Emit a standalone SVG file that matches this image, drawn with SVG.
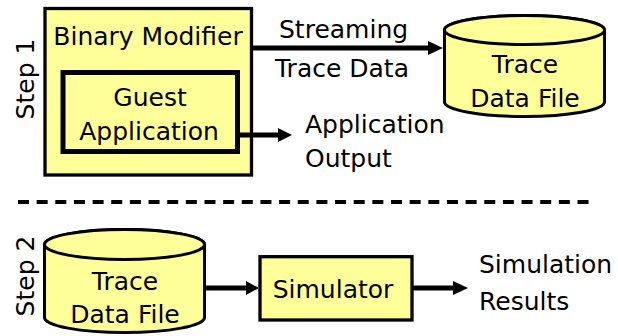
<svg xmlns="http://www.w3.org/2000/svg" width="618" height="336" viewBox="0 0 618 336">
  <defs>
    <style>
      .box { fill: #FFFF99; stroke: #000; stroke-width: 3.3; }
      .inner { fill: none; stroke: #000; stroke-width: 5; }
      .cyl { fill: #FFFF99; stroke: #000; stroke-width: 3; }
      .edge { stroke: #000; stroke-width: 5; fill: none; }
      .head { fill: #000; }
      text { font-family: "DejaVu Sans", Verdana, sans-serif; font-size: 25px; fill: #000; }
      .mid { text-anchor: middle; }
    </style>
  </defs>

  <rect width="618" height="336" fill="#fff"/>

  <!-- step labels -->
  <text class="mid" transform="translate(33.5,79) rotate(-90)">Step 1</text>
  <text class="mid" transform="translate(33.5,276) rotate(-90)">Step 2</text>

  <!-- step 1: binary modifier wrapping the guest application -->
  <g id="binary-modifier">
    <rect class="box" x="45" y="8.5" width="206.5" height="166.5"/>
    <text class="mid" x="148" y="45">Binary Modifier</text>
  </g>
  <g id="guest-application">
    <rect class="inner" x="63" y="72.5" width="174.5" height="79"/>
    <text class="mid" x="150" y="106">Guest</text>
    <text class="mid" x="149" y="140">Application</text>
  </g>

  <g id="trace-file-1">
    <path class="cyl" d="M444.5,30 V102 A80,14.5 0 0 0 604.5,102 V30 A80,14.5 0 0 0 444.5,30 Z"/>
    <ellipse class="cyl" cx="524.5" cy="30" rx="80" ry="14.5"/>
    <text class="mid" x="525" y="73">Trace</text>
    <text class="mid" x="525" y="107">Data File</text>
  </g>

  <g id="app-output">
    <text x="305" y="133">Application</text>
    <text x="305" y="167">Output</text>
  </g>

  <!-- separator between the two steps -->
  <line x1="18" y1="202" x2="589" y2="202" stroke="#000" stroke-width="4" stroke-dasharray="11 7.65"/>

  <!-- step 2 -->
  <g id="trace-file-2">
    <path class="cyl" d="M44.5,244.5 V317.5 A80,15 0 0 0 204.5,317.5 V244.5 A80,15 0 0 0 44.5,244.5 Z"/>
    <ellipse class="cyl" cx="124.5" cy="244.5" rx="80" ry="15"/>
    <text class="mid" x="125" y="290">Trace</text>
    <text class="mid" x="125" y="323">Data File</text>
  </g>

  <g id="simulator">
    <rect class="box" x="260" y="256.7" width="152" height="63.3"/>
    <text class="mid" x="333" y="298">Simulator</text>
  </g>

  <g id="simulation-results">
    <text x="479" y="273">Simulation</text>
    <text x="479" y="310">Results</text>
  </g>

  <!-- connectors -->
  <g id="connectors">
    <line class="edge" x1="253" y1="48" x2="430" y2="48"/>
    <polygon class="head" points="428,41 443,48 428,55"/>
    <text x="279" y="38">Streaming</text>
    <text x="275" y="77">Trace Data</text>

    <line class="edge" x1="240" y1="135" x2="280" y2="135"/>
    <polygon class="head" points="278,128 292,135 278,142"/>

    <line class="edge" x1="206" y1="288" x2="249" y2="288"/>
    <polygon class="head" points="246,281 259,288 246,295"/>

    <line class="edge" x1="413" y1="288" x2="455" y2="288"/>
    <polygon class="head" points="453,281 468,288 453,295"/>
  </g>
</svg>
